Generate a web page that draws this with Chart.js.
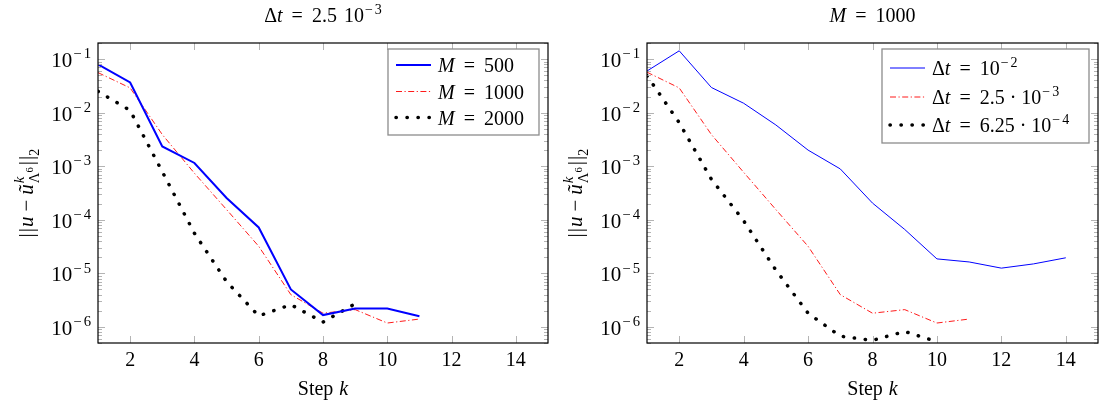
<!DOCTYPE html>
<html lang="en">

<head>
  <meta charset="UTF-8">
  <title>Error vs step k</title>
  <script src="https://cdn.jsdelivr.net/npm/chart.js"></script>
  <style>
    body { margin: 0; background: #fff; }
    #wrap { display: flex; width: 1099px; height: 408px; }
    canvas { display: block; }
  </style>
</head>

<body>
  <div id="wrap">
    <canvas id="left" width="549" height="408"></canvas>
    <canvas id="right" width="550" height="408"></canvas>
  </div>

  <script>
    const steps = [1, 2, 3, 4, 5, 6, 7, 8, 9, 10, 11, 12, 13, 14];
    const xTicks = [2, 4, 6, 8, 10, 12, 14];
    const yTickExps = [-1, -2, -3, -4, -5, -6];

    // left panel: dt = 2.5e-3
    const m500 = [0.080, 0.0366, 2.34e-3, 1.15e-3, 2.55e-4, 7.2e-5, 5.0e-6, 1.66e-6, 2.2e-6, 2.2e-6, 1.58e-6];
    const m1000 = [0.056, 0.029, 3.9e-3, 7.4e-4, 1.55e-4, 3.2e-5, 4.0e-6, 1.8e-6, 2.1e-6, 1.18e-6, 1.4e-6];
    const m2000 = [0.025, 0.011, 7.9e-4, 5.6e-5, 7.0e-6, 1.6e-6, 2.6e-6, 1.23e-6, 2.7e-6];

    // right panel: M = 1000
    const dt1 = [0.060, 0.143, 0.0295, 0.015, 5.9e-3, 2.0e-3, 8.9e-4, 2.05e-4, 6.6e-5, 1.86e-5, 1.63e-5, 1.25e-5, 1.5e-5, 1.95e-5];
    const dt2 = [0.057, 0.029, 3.9e-3, 7.7e-4, 1.55e-4, 3.2e-5, 4.0e-6, 1.8e-6, 2.1e-6, 1.18e-6, 1.4e-6];
    const dt3 = [0.049, 6.5e-3, 5.7e-4, 9.6e-5, 1.15e-5, 1.8e-6, 6.7e-7, 5.6e-7, 8.2e-7, 5.3e-7];

    const FONT = '"Liberation Serif", "DejaVu Serif", serif';
    const SIZE = 20;

    const styles = {
      blueThick: { borderColor: '#0000ff', borderWidth: 2, borderDash: [] },
      blueThin: { borderColor: '#0000ff', borderWidth: 1, borderDash: [] },
      redDashDot: { borderColor: '#ff0000', borderWidth: 0.9, borderDash: [6, 2.5, 1.2, 2.5] },
      blackDots: { borderColor: '#000000', borderWidth: 3.5, borderDash: [0.3, 10.7], borderCapStyle: 'round' }
    };

    // pieces of math-like text
    const EQ = [{ gap: 9 }, { t: '=' }, { gap: 9 }];
    const CDOT = [{ gap: 5 }, { t: '·' }, { gap: 5 }];
    const pow = e => [{ t: '10' }, { gap: 1 }, { t: '−', sup: true }, { gap: 2 }, { t: String(Math.abs(e)), sup: true }];

    function pieceFont(p, size) {
      let s = size;
      if (p.sup || p.sub) s = size * 0.7;
      if (p.sub2) s = size * 0.5;
      return (p.i ? 'italic ' : '') + s + 'px ' + FONT;
    }
    function pieceWidth(ctx, p, size) {
      if (p.gap) return p.gap;
      if (p.noAdv) return 0;
      ctx.font = pieceFont(p, size);
      return ctx.measureText(p.t).width;
    }
    function drawRich(ctx, parts, x, y, align, size) {
      let w = 0;
      parts.forEach(p => { w += pieceWidth(ctx, p, size); });
      let cx = align === 'center' ? x - w / 2 : align === 'right' ? x - w : x;
      ctx.textBaseline = 'alphabetic';
      ctx.textAlign = 'left';
      ctx.fillStyle = '#000';
      parts.forEach(p => {
        if (!p.gap) {
          ctx.font = pieceFont(p, size);
          let dy = 0;
          if (p.sup) dy = -size * 0.42;
          if (p.sub) dy = size * 0.27;
          if (p.sub2) dy = size * 0.02;
          ctx.fillText(p.t, cx, y + dy);
        }
        cx += pieceWidth(ctx, p, size);
      });
    }

    function framePlugin(legendItems, title, legendBox) {
      return {
        id: 'frame',
        afterDatasetsDraw(chart) {
          const ctx = chart.ctx;
          const a = chart.chartArea;
          const xs = chart.scales.x, ys = chart.scales.y;
          ctx.save();

          // tick marks, inside the frame
          ctx.strokeStyle = '#b4b4b4';
          ctx.lineWidth = 1;
          ctx.setLineDash([]);
          ctx.beginPath();
          xTicks.forEach(v => {
            const px = Math.round(xs.getPixelForValue(v)) + 0.5;
            ctx.moveTo(px, a.bottom); ctx.lineTo(px, a.bottom - 7);
            ctx.moveTo(px, a.top); ctx.lineTo(px, a.top + 7);
          });
          for (let e = -7; e <= 0; e++) {
            for (let m = 1; m <= 9; m++) {
              const v = m * Math.pow(10, e);
              if (v < ys.min || v > ys.max) continue;
              const py = Math.round(ys.getPixelForValue(v)) + 0.5;
              const len = m === 1 ? 7 : 4;
              ctx.moveTo(a.left, py); ctx.lineTo(a.left + len, py);
              ctx.moveTo(a.right, py); ctx.lineTo(a.right - len, py);
            }
          }
          ctx.stroke();

          // frame
          ctx.strokeStyle = '#000';
          ctx.lineWidth = 1.2;
          ctx.strokeRect(a.left, a.top, a.right - a.left, a.bottom - a.top);

          // tick labels
          xTicks.forEach(v => {
            drawRich(ctx, [{ t: String(v) }], xs.getPixelForValue(v), 366, 'center', SIZE);
          });
          yTickExps.forEach(e => {
            const py = ys.getPixelForValue(Math.pow(10, e));
            drawRich(ctx, pow(e), 91, py + 8, 'right', 21);
          });

          // axis labels and title
          const cx = (a.left + a.right) / 2;
          drawRich(ctx, [{ t: 'Step' }, { gap: 6 }, { t: 'k', i: true }], cx, 395, 'center', SIZE);
          drawRich(ctx, title, cx, 22, 'center', SIZE);

          ctx.save();
          ctx.translate(33, (a.top + a.bottom) / 2);
          ctx.rotate(-Math.PI / 2);
          drawRich(ctx, [
            { t: '|' }, { gap: 1 }, { t: '|' }, { gap: 1 }, { t: 'u', i: true }, { gap: 5 }, { t: '−' }, { gap: 5 },
            { t: 'ũ', i: true }, { gap: 1 },
            { t: 'k', i: true, sup: true, noAdv: true }, { t: 'Λ', sub: true }, { t: '6', sub2: true }, { gap: 2 },
            { t: '|' }, { gap: 1 }, { t: '|' }, { t: '2', sub: true }
          ], 0, 0, 'center', 21);
          ctx.restore();

          // legend box
          const b = legendBox;
          ctx.fillStyle = '#fff';
          ctx.fillRect(b.x, b.y, b.w, b.h);
          ctx.strokeStyle = '#8c8c8c';
          ctx.lineWidth = 1.3;
          ctx.strokeRect(b.x, b.y, b.w, b.h);
          legendItems.forEach((item, i) => {
            const st = item.style;
            const ly = b.rows[i];
            ctx.beginPath();
            ctx.strokeStyle = st.borderColor;
            ctx.lineWidth = st.borderWidth;
            ctx.lineCap = st.borderCapStyle || 'butt';
            ctx.setLineDash(st.borderDash);
            ctx.moveTo(b.x + b.lineX0, ly);
            ctx.lineTo(b.x + b.lineX1, ly);
            ctx.stroke();
            ctx.setLineDash([]);
            ctx.lineCap = 'butt';
            drawRich(ctx, item.text, b.x + b.textX, ly + 7, 'left', SIZE);
          });
          ctx.restore();
        }
      };
    }

    function makeChart(id, series, title, legendBox) {
      const datasets = series.map(s => Object.assign({
        data: s.values.map((v, i) => ({ x: steps[i], y: v })),
        pointRadius: 0,
        tension: 0,
        fill: false
      }, s.style));
      return new Chart(document.getElementById(id), {
        type: 'line',
        data: { datasets: datasets },
        options: {
          responsive: false,
          animation: false,
          devicePixelRatio: 1,
          layout: { padding: { top: 43, right: 1, left: 0, bottom: 0 } },
          plugins: { legend: { display: false }, tooltip: { enabled: false } },
          scales: {
            x: {
              type: 'linear', min: 1, max: 15,
              ticks: { display: false }, grid: { display: false }, border: { display: false },
              afterFit(scale) { scale.height = 65; }
            },
            y: {
              type: 'logarithmic', min: 5e-7, max: 0.2,
              ticks: { display: false }, grid: { display: false }, border: { display: false },
              afterFit(scale) { scale.width = 98; }
            }
          }
        },
        plugins: [framePlugin(series, title, legendBox)]
      });
    }

    const M = [{ t: 'M', i: true }];
    const DT = [{ t: 'Δ' }, { t: 't', i: true }];

    makeChart('left', [
      { values: m500, style: styles.blueThick, text: [...M, ...EQ, { t: '500' }] },
      { values: m1000, style: styles.redDashDot, text: [...M, ...EQ, { t: '1000' }] },
      { values: m2000, style: styles.blackDots, text: [...M, ...EQ, { t: '2000' }] }
    ], [...DT, ...EQ, { t: '2.5' }, { gap: 7 }, ...pow(-3)],
      { x: 388, y: 49, w: 151, h: 86, rows: [65, 91.5, 117.5], lineX0: 8, lineX1: 43, textX: 50 });

    makeChart('right', [
      { values: dt1, style: styles.blueThin, text: [...DT, ...EQ, ...pow(-2)] },
      { values: dt2, style: styles.redDashDot, text: [...DT, ...EQ, { t: '2.5' }, ...CDOT, ...pow(-3)] },
      { values: dt3, style: styles.blackDots, text: [...DT, ...EQ, { t: '6.25' }, ...CDOT, ...pow(-4)] }
    ], [...M, ...EQ, { t: '1000' }],
      { x: 333, y: 49, w: 207, h: 94, rows: [68, 97, 125], lineX0: 8, lineX1: 43, textX: 50 });
  </script>
</body>

</html>
